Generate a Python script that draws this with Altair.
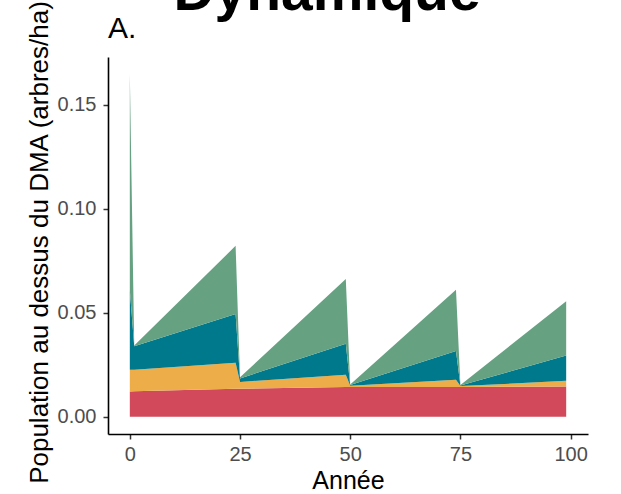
import altair as alt
import pandas as pd

annees = [0, 1, 24, 25, 49, 50, 74, 75, 99]

# Thickness of each stacked layer (arbres/ha), bottom to top
groupe_1 = [0.0122, 0.0123, 0.0135, 0.0135, 0.0143, 0.0143, 0.0144, 0.0144, 0.0146]
groupe_2 = [0.0104, 0.0103, 0.0125, 0.0033, 0.0059, 0.0007, 0.0034, 0.0004, 0.0027]
groupe_3 = [0.0384, 0.0114, 0.0235, 0.0017, 0.0149, 0.0003, 0.0139, 0.0003, 0.0122]
groupe_4 = [0.1040, 0.0003, 0.0327, 0.0005, 0.0312, 0.0002, 0.0294, 0.0002, 0.0261]

noms = ["Groupe 1", "Groupe 2", "Groupe 3", "Groupe 4"]
couleurs = ["#d1495b", "#edae49", "#00798c", "#66a182"]

x_ticks = [0, 25, 50, 75, 100]
y_ticks = [0.0, 0.05, 0.10, 0.15]

rows = []
for rang, (nom, serie) in enumerate(zip(noms, [groupe_1, groupe_2, groupe_3, groupe_4])):
    for a, v in zip(annees, serie):
        rows.append({"annee": a, "population": v, "groupe": nom, "rang": rang})
df = pd.DataFrame(rows)

aires = alt.Chart(df).mark_area(interpolate="linear").encode(
    x=alt.X(
        "annee:Q",
        title="Année",
        scale=alt.Scale(domain=[-4.95, 103.95], nice=False, zero=False),
        axis=alt.Axis(values=x_ticks, format="d", labelPadding=5, titlePadding=4,
                      titleFontSize=25),
    ),
    y=alt.Y(
        "population:Q",
        stack="zero",
        title="Population au dessus du DMA (arbres/ha)",
        scale=alt.Scale(domain=[-0.00824, 0.173], nice=False, zero=False),
        axis=alt.Axis(values=y_ticks, format=".2f", labelPadding=7, titlePadding=5,
                      titleFontSize=26, titleY=185),
    ),
    color=alt.Color("groupe:N", scale=alt.Scale(domain=noms, range=couleurs), legend=None),
    order=alt.Order("rang:Q", sort="ascending"),
)

titre = alt.Chart(pd.DataFrame({"t": ["Dynamique"]})).mark_text(
    font="Liberation Sans", fontSize=57, fontWeight="bold", align="center",
    baseline="alphabetic", color="black",
).encode(text="t:N", x=alt.value(219), y=alt.value(-47))

etiquette = alt.Chart(pd.DataFrame({"t": ["A."]})).mark_text(
    font="Liberation Sans", fontSize=30, align="left",
    baseline="alphabetic", color="black",
).encode(text="t:N", x=alt.value(0), y=alt.value(-19))

chart = alt.layer(aires, titre, etiquette).properties(
    width=480,
    height=377,
    autosize=alt.AutoSizeParams(type="none"),
    padding={"left": 108, "top": 57, "right": 33, "bottom": 60},
).configure_view(stroke=None).configure_axis(
    grid=False,
    domainColor="black",
    domainWidth=1.6,
    tickColor="#333333",
    tickWidth=1.5,
    tickSize=5,
    labelColor="#4d4d4d",
    labelFont="Liberation Sans",
    labelFontSize=20,
    titleFont="Liberation Sans",
    titleFontWeight="normal",
    titleColor="black",
)

chart.save("out.html", embed_options={"renderer": "svg", "actions": False})
